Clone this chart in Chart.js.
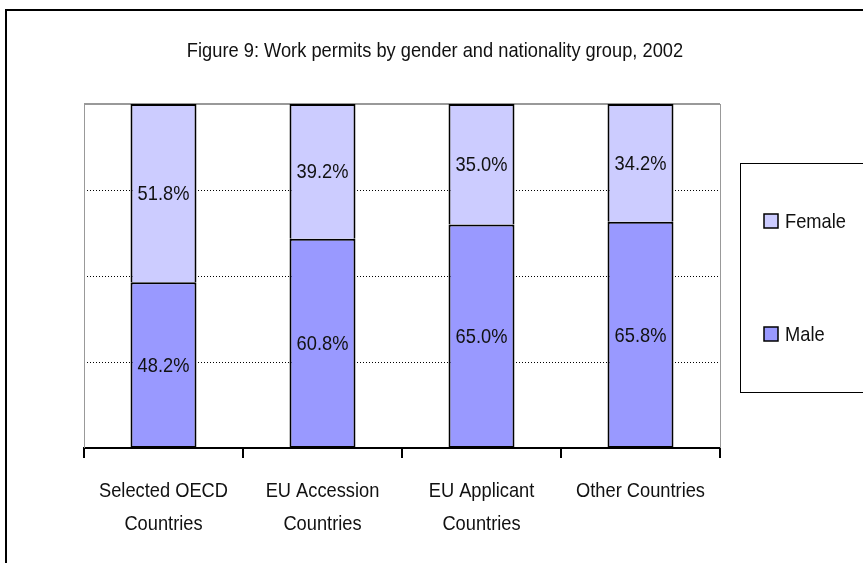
<!DOCTYPE html>
<html>
<head>
<meta charset="utf-8">
<script src="https://cdn.jsdelivr.net/npm/chart.js@4/dist/chart.umd.min.js"></script>
<style>
  html, body { margin: 0; padding: 0; background: #fff; }
  #wrap { width: 863px; height: 563px; position: relative; }
</style>
</head>
<body>
<div id="wrap"><canvas id="permits" width="863" height="563"></canvas></div>
<script>
var categories = [
    ["Selected OECD", "Countries"],
    ["EU Accession", "Countries"],
    ["EU Applicant", "Countries"],
    ["Other Countries"]
];
var maleShare = [48.2, 60.8, 65.0, 65.8];
var femaleShare = [51.8, 39.2, 35.0, 34.2];
var gridSteps = [25, 50, 75];

var fontFamily = "'Liberation Sans', Arial, sans-serif";
var textSize = 21;
var squeeze = 0.87; // narrow look of the text
var titleText = "Figure 9: Work permits by gender and nationality group, 2002";

function narrowText(ctx, str, x, y, align) {
    ctx.save();
    ctx.translate(x, y);
    ctx.scale(squeeze, 1);
    ctx.textAlign = align || "center";
    ctx.fillText(str, 0, 0);
    ctx.restore();
}

// frame, title, gridlines, labels and legend box
var decorPlugin = {
    id: "decor",
    beforeDatasetsDraw: function(chart) {
        var ctx = chart.ctx;
        var area = chart.chartArea;
        var y = chart.scales.y;
        ctx.save();
        ctx.strokeStyle = "#000";
        ctx.lineWidth = 1;
        ctx.setLineDash([1, 2]);
        gridSteps.forEach(function(v) {
            var py = Math.round(y.getPixelForValue(v)) + 0.5;
            ctx.beginPath();
            ctx.moveTo(area.left, py);
            ctx.lineTo(area.right, py);
            ctx.stroke();
        });
        ctx.setLineDash([]);
        ctx.strokeStyle = "#999";
        ctx.lineWidth = 2;
        var top = y.getPixelForValue(100);
        ctx.beginPath();
        ctx.moveTo(area.left, top);
        ctx.lineTo(area.right, top);
        ctx.stroke();
        ctx.lineWidth = 1;
        ctx.beginPath();
        ctx.moveTo(area.left + 0.5, area.top);
        ctx.lineTo(area.left + 0.5, area.bottom);
        ctx.moveTo(area.right + 0.5, area.top);
        ctx.lineTo(area.right + 0.5, area.bottom);
        ctx.stroke();
        ctx.restore();
    },
    afterDraw: function(chart) {
        var ctx = chart.ctx;
        var xs = chart.scales.x;
        ctx.save();
        // outer frame
        ctx.strokeStyle = "#000";
        ctx.lineWidth = 2;
        ctx.strokeRect(6, 10, 870, 570);

        ctx.fillStyle = "#111";
        ctx.font = textSize + "px " + fontFamily;
        ctx.textBaseline = "middle";
        narrowText(ctx, titleText, 435, 51);

        // category labels under the axis
        categories.forEach(function(lines, i) {
            var cx = xs.getPixelForValue(i);
            lines.forEach(function(line, k) {
                narrowText(ctx, line, cx, xs.top + 43 + k * 33);
            });
        });

        // value labels centred in each segment
        chart.data.datasets.forEach(function(ds, i) {
            var meta = chart.getDatasetMeta(i);
            meta.data.forEach(function(bar, j) {
                var mid = (bar.y + bar.base) / 2;
                narrowText(ctx, ds.data[j].toFixed(1) + "%", bar.x, mid + 1);
            });
        });

        // legend box
        ctx.lineWidth = 1;
        ctx.strokeRect(740.5, 163.5, 140, 229);
        var items = [
            { label: "Female", ds: chart.data.datasets[1], y: 221 },
            { label: "Male", ds: chart.data.datasets[0], y: 334 }
        ];
        items.forEach(function(it) {
            ctx.fillStyle = it.ds.backgroundColor;
            ctx.fillRect(764, it.y - 7, 14, 14);
            ctx.strokeStyle = "#000";
            ctx.lineWidth = 1.5;
            ctx.strokeRect(764, it.y - 7, 14, 14);
            ctx.fillStyle = "#111";
            narrowText(ctx, it.label, 785, it.y + 1, "left");
        });
        ctx.restore();
    }
};

new Chart(document.getElementById("permits").getContext("2d"), {
    type: "bar",
    data: {
        labels: categories,
        datasets: [
            {
                label: "Male",
                data: maleShare,
                backgroundColor: "#9999FF",
                borderColor: "#000",
                borderWidth: 2,
                borderSkipped: false,
                barPercentage: 0.83,
                categoryPercentage: 0.5
            },
            {
                label: "Female",
                data: femaleShare,
                backgroundColor: "#CCCCFF",
                borderColor: "#000",
                borderWidth: 2,
                borderSkipped: "start",
                barPercentage: 0.83,
                categoryPercentage: 0.5
            }
        ]
    },
    options: {
        responsive: false,
        animation: false,
        layout: { padding: { left: 84, right: 143, top: 104, bottom: 0 } },
        plugins: {
            legend: { display: false },
            title: { display: false },
            tooltip: { enabled: false }
        },
        scales: {
            x: {
                stacked: true,
                afterFit: function(scale) { scale.height = 115; },
                grid: {
                    drawOnChartArea: false,
                    color: "#000",
                    lineWidth: 2,
                    tickLength: 10
                },
                border: { color: "#000", width: 2 },
                ticks: { display: false }
            },
            y: {
                stacked: true,
                min: 0,
                max: 100,
                afterFit: function(scale) { scale.width = 0; },
                grid: { display: false },
                border: { display: false },
                ticks: { display: false }
            }
        }
    },
    plugins: [decorPlugin]
});
</script>
</body>
</html>
